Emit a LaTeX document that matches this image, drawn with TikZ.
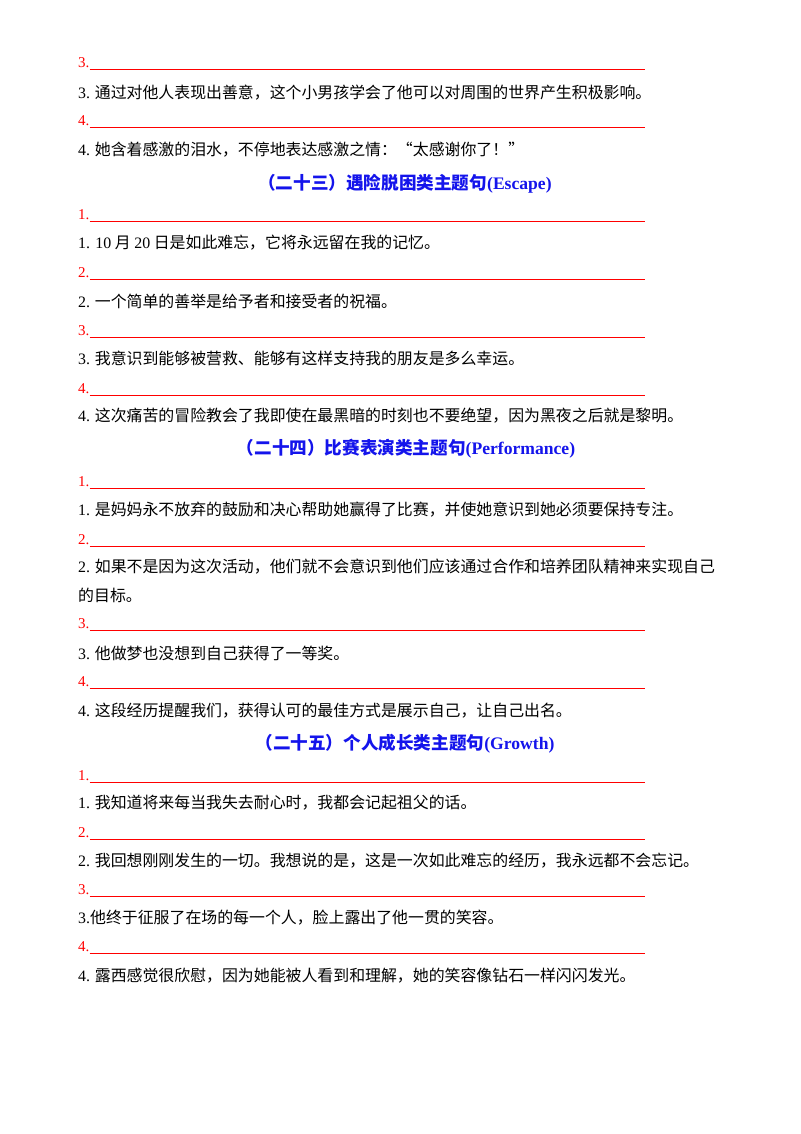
\documentclass[tikz,border=0pt]{standalone}
\usepackage{fontspec}
\setmainfont{Liberation Serif}
\newfontfamily\cjk{Noto Sans CJK SC}
\newcommand{\la}[1]{{\rmfamily #1}}
\begin{document}
\begin{tikzpicture}[x=1pt,y=-1pt,
  num/.style={anchor=west,inner sep=0pt,text=red,font=\fontsize{15}{18}\selectfont},
  txt/.style={anchor=west,inner sep=0pt,font=\fontsize{15.9}{18}\selectfont\cjk},
  head/.style={inner sep=0pt,text={rgb,255:red,20;green,20;blue,235},font=\fontsize{17.6}{20}\selectfont\bfseries\cjk},
  rule/.style={red,line width=0.6pt}]
\useasboundingbox (0,0) rectangle (800,1134);
\newcommand{\blank}[3]{\node[num] (#1) at (78,#2) {#3}; \coordinate (#1e) at (645,#2+6); \draw[rule] (#1.south east|-#1e) -- (#1e);}
\newcommand{\tx}[3]{\node[txt] (#1) at (78,#2) {#3};}
\blank{a3}{63}{3.}
\tx{t3}{93}{\la{3.} 通过对他人表现出善意，这个小男孩学会了他可以对周围的世界产生积极影响。}
\blank{a4}{121}{4.}
\tx{t4}{150}{\la{4.} 她含着感激的泪水，不停地表达感激之情：“太感谢你了！”}
\node[head] (h23) at (405,184) {（二十三）遇险脱困类主题句\la{\bfseries(Escape)}};
\blank{b1}{215}{1.}
\tx{u1}{243}{\la{1. 10} 月 \la{20} 日是如此难忘，它将永远留在我的记忆。}
\blank{b2}{273}{2.}
\tx{u2}{301}{\la{2.} 一个简单的善举是给予者和接受者的祝福。}
\blank{b3}{331}{3.}
\tx{u3}{358}{\la{3.} 我意识到能够被营救、能够有这样支持我的朋友是多么幸运。}
\blank{b4}{389}{4.}
\tx{u4}{416}{\la{4.} 这次痛苦的冒险教会了我即使在最黑暗的时刻也不要绝望，因为黑夜之后就是黎明。}
\node[head] (h24) at (406,449) {（二十四）比赛表演类主题句\la{\bfseries(Performance)}};
\blank{c1}{482}{1.}
\tx{v1}{510}{\la{1.} 是妈妈永不放弃的鼓励和决心帮助她赢得了比赛，并使她意识到她必须要保持专注。}
\blank{c2}{540}{2.}
\tx{v2}{567}{\la{2.} 如果不是因为这次活动，他们就不会意识到他们应该通过合作和培养团队精神来实现自己}
\tx{v2b}{595}{的目标。}
\blank{c3}{624}{3.}
\tx{v3}{653}{\la{3.} 他做梦也没想到自己获得了一等奖。}
\blank{c4}{682}{4.}
\tx{v4}{711}{\la{4.} 这段经历提醒我们，获得认可的最佳方式是展示自己，让自己出名。}
\node[head] (h25) at (405,744) {（二十五）个人成长类主题句\la{\bfseries(Growth)}};
\blank{d1}{776}{1.}
\tx{w1}{803}{\la{1.} 我知道将来每当我失去耐心时，我都会记起祖父的话。}
\blank{d2}{833}{2.}
\tx{w2}{861}{\la{2.} 我回想刚刚发生的一切。我想说的是，这是一次如此难忘的经历，我永远都不会忘记。}
\blank{d3}{890}{3.}
\tx{w3}{918}{\la{3.}他终于征服了在场的每一个人，脸上露出了他一贯的笑容。}
\blank{d4}{947}{4.}
\tx{w4}{976}{\la{4.} 露西感觉很欣慰，因为她能被人看到和理解，她的笑容像钻石一样闪闪发光。}
\end{tikzpicture}
\end{document}
